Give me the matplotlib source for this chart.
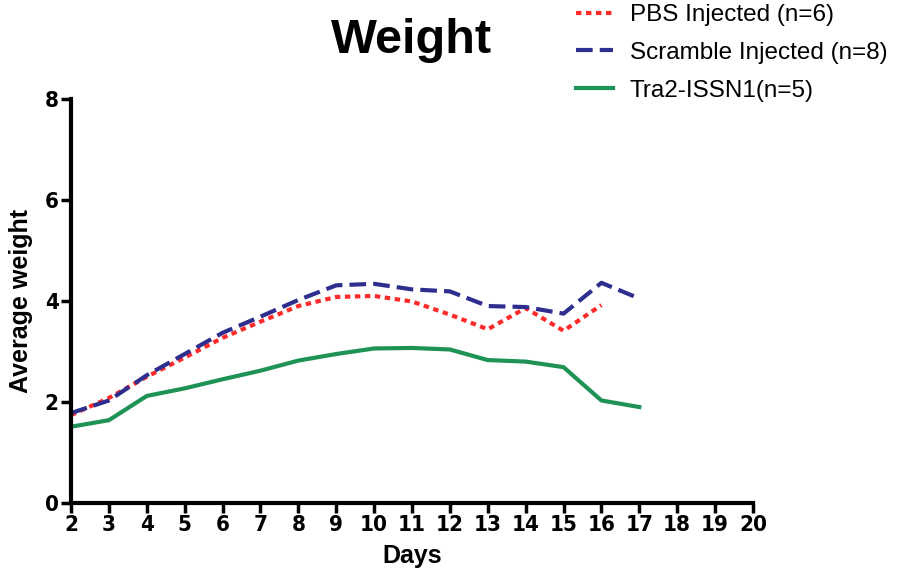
import matplotlib
matplotlib.use("Agg")
import matplotlib.pyplot as plt

days = [2, 3, 4, 5, 6, 7, 8, 9, 10, 11, 12, 13, 14, 15, 16, 17]
pbs = [1.74, 2.08, 2.50, 2.88, 3.27, 3.59, 3.90, 4.08, 4.10, 3.99, 3.73, 3.44, 3.86, 3.41, 3.92]
scramble = [1.78, 2.03, 2.53, 2.95, 3.37, 3.69, 4.02, 4.31, 4.34, 4.23, 4.19, 3.90, 3.88, 3.75, 4.36, 4.05]
tra2 = [1.51, 1.64, 2.12, 2.27, 2.45, 2.62, 2.82, 2.95, 3.06, 3.07, 3.04, 2.83, 2.80, 2.69, 2.03, 1.90]

labels = ["PBS Injected (n=6)", "Scramble Injected (n=8)", "Tra2-ISSN1(n=5)"]
x_ticks = list(range(2, 21))
y_ticks = [0, 2, 4, 6, 8]

fig = plt.figure(figsize=(9.13, 5.84), dpi=100)
ax = fig.add_axes([0.0778, 0.1387, 0.7469, 0.6918])

l1, = ax.plot(days[:len(pbs)], pbs, color="#FF2A2A", lw=3, linestyle=(0, (1.3, 1.1)))
l2, = ax.plot(days, scramble, color="#2E2E8F", lw=3, linestyle=(0, (4.0, 1.7)))
l3, = ax.plot(days, tra2, color="#1E9355", lw=3, linestyle="-")

ax.set_xlim(2, 20)
ax.set_ylim(0, 8)
ax.set_xticks(x_ticks)
ax.set_yticks(y_ticks)
for s in ["top", "right"]:
    ax.spines[s].set_visible(False)
for s in ["left", "bottom"]:
    ax.spines[s].set_linewidth(3)
ax.tick_params(axis="both", width=2.5, length=7, direction="out", pad=2)
for lab in ax.get_xticklabels() + ax.get_yticklabels():
    lab.set_fontfamily("DejaVu Sans")
    lab.set_fontstretch("condensed")
    lab.set_fontweight("bold")
    lab.set_fontsize(16)

ax.set_xlabel("Days", fontfamily="Liberation Sans", fontweight="bold", fontsize=18, labelpad=6)
ax.set_ylabel("Average weight", fontfamily="Liberation Sans", fontweight="bold", fontsize=18, labelpad=8)

fig.text(0.451, 0.93, "Weight", ha="center", va="center",
         fontfamily="Liberation Sans", fontweight="bold", fontsize=35)

fig.legend([l1, l2, l3], labels, loc="upper left", bbox_to_anchor=(0.607, 1.03),
           frameon=False, prop={"family": "Liberation Sans", "size": 17.5},
           handlelength=1.5, handletextpad=0.7, labelspacing=0.64)

fig.savefig("out.png", dpi=100)
